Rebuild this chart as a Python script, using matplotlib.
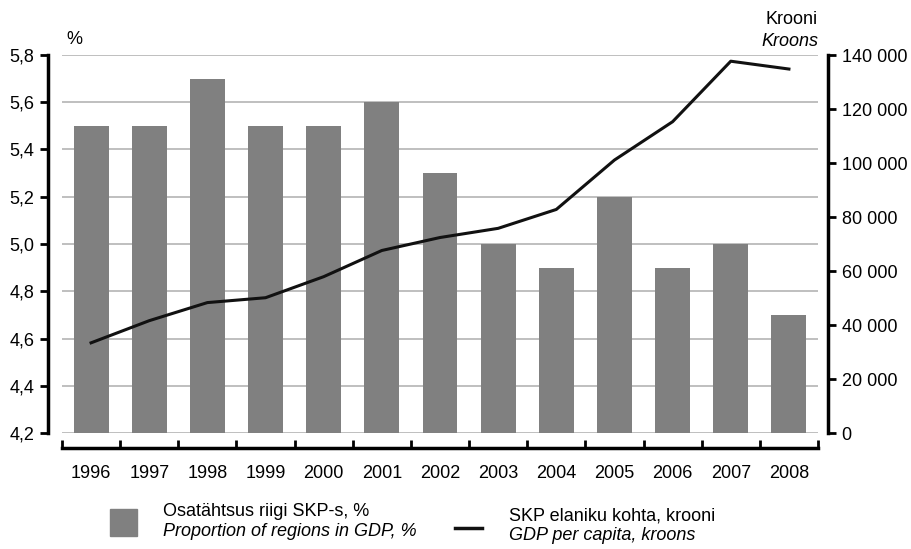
import matplotlib
matplotlib.use("Agg")
import matplotlib.pyplot as plt
from matplotlib.patches import Rectangle
from matplotlib.lines import Line2D
from matplotlib.ticker import FuncFormatter
import numpy as np

plt.rcParams['font.family'] = ['Liberation Sans', 'DejaVu Sans']

years = ['1996', '1997', '1998', '1999', '2000', '2001', '2002',
         '2003', '2004', '2005', '2006', '2007', '2008']
share_pct = [5.5, 5.5, 5.7, 5.5, 5.5, 5.6, 5.3, 5.0, 4.9, 5.2, 4.9, 5.0, 4.7]
gdp_per_capita = [33400, 41600, 48300, 50100, 57900, 67600, 72400,
                  75800, 82800, 101100, 115300, 137700, 134800]
left_ticks = [4.2, 4.4, 4.6, 4.8, 5.0, 5.2, 5.4, 5.6, 5.8]
right_ticks = [0, 20000, 40000, 60000, 80000, 100000, 120000, 140000]

FS = 13
W, H = 912, 549
fig = plt.figure(figsize=(W / 100, H / 100), dpi=100)
ax = fig.add_axes([62 / W, 1 - 433 / H, (818 - 62) / W, (433 - 55) / H])

x = np.arange(len(years))
ax.bar(x, [v - 4.2 for v in share_pct], bottom=4.2, width=0.6, color='#808080', zorder=2)
ax.set_xlim(-0.5, len(years) - 0.5)
ax.set_ylim(4.2, 5.8)
ax.set_yticks(left_ticks)
ax.yaxis.set_major_formatter(FuncFormatter(lambda v, p: f"{v:.1f}".replace('.', ',')))
ax.yaxis.grid(True, color='#b4b4b4', linewidth=1.2, zorder=0)
ax.set_axisbelow(True)

for s in ['top', 'right']:
    ax.spines[s].set_visible(False)
ax.spines['left'].set_position(('outward', 10))
ax.spines['left'].set_linewidth(2.5)
ax.spines['bottom'].set_position(('outward', 11))
ax.spines['bottom'].set_linewidth(2.5)
ax.tick_params(axis='y', direction='out', length=6, width=2, labelsize=FS, pad=4)

ax.set_xticks(x)
ax.set_xticklabels(years)
ax.set_xticks(np.arange(-0.5, len(years)), minor=True)
ax.tick_params(axis='x', which='major', length=0, labelsize=FS, pad=12)
ax.tick_params(axis='x', which='minor', direction='in', length=6, width=2)

ax2 = ax.twinx()
ax2.plot(x, gdp_per_capita, color='#111111', linewidth=2.2, zorder=3)
ax2.set_ylim(0, 140000)
ax2.set_yticks(right_ticks)
ax2.yaxis.set_major_formatter(FuncFormatter(lambda v, p: f"{int(v):,}".replace(',', '\u00a0')))
for s in ['top', 'left', 'bottom']:
    ax2.spines[s].set_visible(False)
ax2.spines['right'].set_position(('outward', 7))
ax2.spines['right'].set_linewidth(2.5)
ax2.tick_params(axis='y', direction='out', length=6, width=2, labelsize=FS, pad=4)

fig.text(66 / W, 1 - 40 / H, '%', fontsize=FS, va='center', ha='left')
fig.text(818 / W, 1 - 19 / H, 'Krooni', fontsize=FS, va='center', ha='right')
fig.text(818 / W, 1 - 41 / H, 'Kroons', fontsize=FS, va='center', ha='right', style='italic')

# legend
fig.add_artist(Rectangle((110 / W, 1 - 536 / H), 27 / W, 27 / H,
                         transform=fig.transFigure, color='#808080'))
fig.text(163 / W, 1 - 512 / H, 'Osatähtsus riigi SKP-s, %', fontsize=FS, va='center')
fig.text(163 / W, 1 - 531 / H, 'Proportion of regions in GDP, %', fontsize=FS, va='center', style='italic')
fig.add_artist(Line2D([455 / W, 482 / W], [1 - 528 / H, 1 - 528 / H],
                      transform=fig.transFigure, color='#111111', linewidth=2.5))
fig.text(509 / W, 1 - 516 / H, 'SKP elaniku kohta, krooni', fontsize=FS, va='center')
fig.text(509 / W, 1 - 535 / H, 'GDP per capita, kroons', fontsize=FS, va='center', style='italic')

fig.savefig('out.png', dpi=100)
